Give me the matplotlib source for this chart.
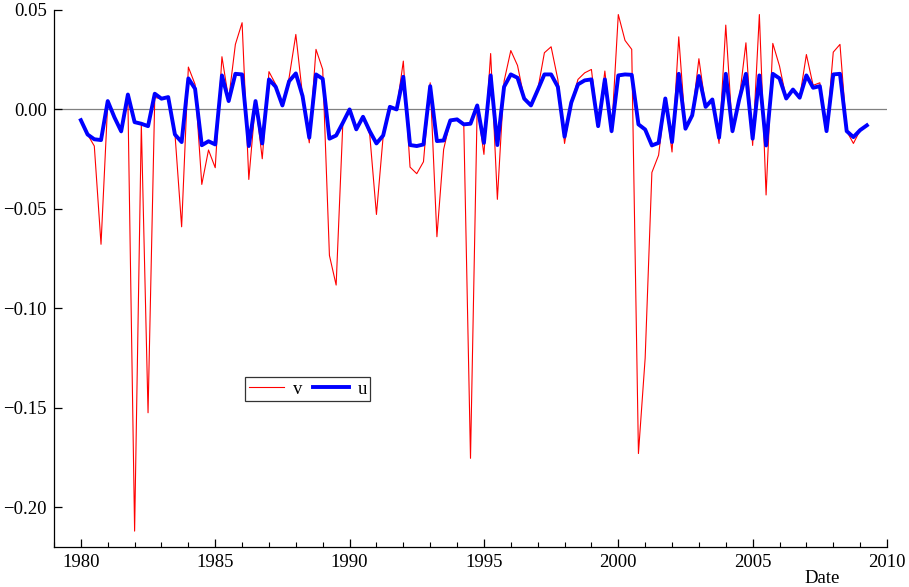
import numpy as np
import matplotlib
matplotlib.use("Agg")
import matplotlib.pyplot as plt
from matplotlib.ticker import MultipleLocator, FuncFormatter

# quarterly dates, 1980Q1 .. 2009Q2
start_year = 1980.0
n_quarters = 118

v = [-0.0054, -0.0126, -0.0184, -0.0678, 0.0035, -0.0040, -0.0117, 0.0050,
     -0.2120, -0.0075, -0.1525, 0.0060, 0.0054, 0.0062, -0.0120, -0.0590,
     0.0213, 0.0126, -0.0377, -0.0204, -0.0293, 0.0265, 0.0050, 0.0327,
     0.0436, -0.0352, 0.0040, -0.0248, 0.0190, 0.0126, 0.0020, 0.0160,
     0.0377, 0.0070, -0.0168, 0.0302, 0.0201, -0.0734, -0.0883, -0.0066,
     0.0000, -0.0106, -0.0037, -0.0126, -0.0528, -0.0134, 0.0013, 0.0000,
     0.0243, -0.0290, -0.0323, -0.0263, 0.0134, -0.0640, -0.0201, -0.0055,
     -0.0050, -0.0075, -0.1754, 0.0020, -0.0226, 0.0281, -0.0452, 0.0142,
     0.0296, 0.0221, 0.0054, 0.0020, 0.0097, 0.0285, 0.0315, 0.0151,
     -0.0171, 0.0034, 0.0151, 0.0184, 0.0201, -0.0084, 0.0193, -0.0117,
     0.0477, 0.0347, 0.0302, -0.1730, -0.1250, -0.0317, -0.0230, 0.0055,
     -0.0214, 0.0365, -0.0097, -0.0030, 0.0255, 0.0013, 0.0050, -0.0171,
     0.0424, -0.0117, 0.0050, 0.0335, -0.0181, 0.0477, -0.0430, 0.0332,
     0.0218, 0.0055, 0.0100, 0.0059, 0.0276, 0.0121, 0.0134, -0.0112,
     0.0288, 0.0327, -0.0109, -0.0171, -0.0104, -0.0080]

u = [-0.0054, -0.0126, -0.0150, -0.0154, 0.0042, -0.0040, -0.0110, 0.0075,
     -0.0064, -0.0072, -0.0084, 0.0079, 0.0054, 0.0062, -0.0126, -0.0164,
     0.0156, 0.0104, -0.0180, -0.0160, -0.0176, 0.0171, 0.0042, 0.0179,
     0.0176, -0.0184, 0.0042, -0.0171, 0.0151, 0.0114, 0.0020, 0.0142,
     0.0181, 0.0067, -0.0142, 0.0176, 0.0154, -0.0147, -0.0131, -0.0067,
     0.0000, -0.0100, -0.0037, -0.0109, -0.0171, -0.0131, 0.0013, 0.0000,
     0.0164, -0.0179, -0.0184, -0.0176, 0.0117, -0.0159, -0.0156, -0.0055,
     -0.0050, -0.0075, -0.0072, 0.0020, -0.0168, 0.0171, -0.0179, 0.0114,
     0.0176, 0.0159, 0.0054, 0.0020, 0.0097, 0.0176, 0.0176, 0.0114,
     -0.0137, 0.0034, 0.0126, 0.0146, 0.0151, -0.0084, 0.0151, -0.0109,
     0.0171, 0.0176, 0.0174, -0.0075, -0.0101, -0.0181, -0.0168, 0.0055,
     -0.0164, 0.0179, -0.0097, -0.0030, 0.0168, 0.0013, 0.0050, -0.0142,
     0.0179, -0.0109, 0.0050, 0.0179, -0.0147, 0.0171, -0.0181, 0.0179,
     0.0156, 0.0055, 0.0100, 0.0059, 0.0171, 0.0109, 0.0117, -0.0109,
     0.0176, 0.0179, -0.0109, -0.0139, -0.0104, -0.0080]

dates = start_year + np.arange(n_quarters) / 4.0

plt.rcParams['font.family'] = ['Liberation Serif', 'DejaVu Serif']
plt.rcParams['font.size'] = 13.5

fig = plt.figure(figsize=(9.09, 5.87), dpi=100)
ax = fig.add_axes([0.0594, 0.0681, 0.9164, 0.9149])

ax.axhline(0, color='#808080', lw=0.9, zorder=1)
ax.plot(dates, v, color='#ff0000', lw=0.8, label='v', zorder=2)
ax.plot(dates, u, color='#0000ff', lw=2.8, label='u', zorder=3)

ax.set_xlim(1979, 2010)
ax.set_ylim(-0.22, 0.05)

for s in ['top', 'right']:
    ax.spines[s].set_visible(False)
for s in ['left', 'bottom']:
    ax.spines[s].set_linewidth(0.9)

ax.xaxis.set_major_locator(MultipleLocator(5))
ax.xaxis.set_minor_locator(MultipleLocator(1))
ax.yaxis.set_major_locator(MultipleLocator(0.05))
ax.yaxis.set_major_formatter(FuncFormatter(lambda y, p: ('%.2f' % y).replace('-', '\u2212')))
ax.tick_params(axis='both', which='major', direction='in', length=6, width=0.9)
ax.tick_params(axis='x', which='minor', direction='in', length=3.5, width=0.8)
ax.tick_params(axis='x', pad=5)
ax.tick_params(axis='y', pad=5)

ax.text(0.922, -0.058, 'Date', transform=ax.transAxes, ha='center', va='center')

leg = ax.legend(loc='upper left', bbox_to_anchor=(0.229, 0.317), ncol=2,
                frameon=True, fancybox=False, shadow=False, borderaxespad=0,
                handlelength=1.9, handletextpad=0.45, columnspacing=0.6,
                borderpad=0.2)
leg.get_frame().set_edgecolor('black')
leg.get_frame().set_linewidth(0.9)

fig.savefig('out.png', dpi=100)
